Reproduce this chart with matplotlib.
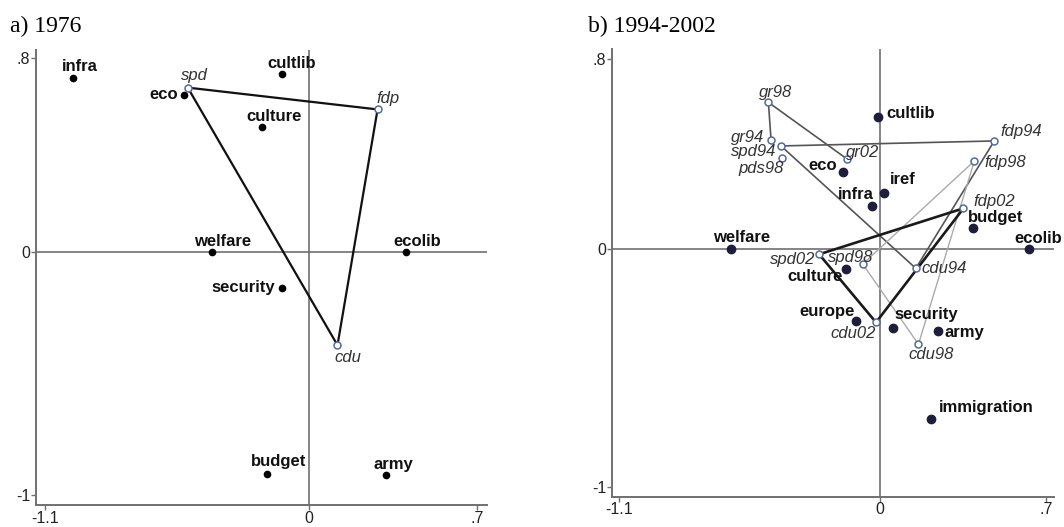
import matplotlib.pyplot as plt

plt.rcParams['font.family'] = ['Liberation Sans', 'DejaVu Sans']

# a) 1976 - issues and parties
issues76 = ['infra', 'cultlib', 'eco', 'culture', 'welfare', 'ecolib', 'security', 'budget', 'army']
issues76_x = [-0.985, -0.114, -0.521, -0.195, -0.405, 0.404, -0.114, -0.176, 0.320]
issues76_y = [0.716, 0.734, 0.649, 0.515, 0.0, 0.0, -0.150, -0.915, -0.920]
parties76 = ['spd', 'fdp', 'cdu']
parties76_x = [-0.505, 0.286, 0.119]
parties76_y = [0.678, 0.588, -0.384]

# b) 1994-2002 - issues and parties
issues_b = ['cultlib', 'eco', 'iref', 'infra', 'budget', 'welfare', 'ecolib', 'culture',
            'europe', 'security', 'army', 'immigration']
issues_b_x = [-0.010, -0.155, 0.017, -0.032, 0.394, -0.629, 0.629, -0.144, -0.103, 0.054, 0.246, 0.215]
issues_b_y = [0.556, 0.325, 0.237, 0.182, 0.087, 0.0, 0.0, -0.085, -0.303, -0.331, -0.343, -0.714]
parties_b = ['gr94', 'spd94', 'fdp94', 'cdu94', 'gr98', 'pds98', 'spd98', 'fdp98', 'cdu98',
             'gr02', 'spd02', 'fdp02', 'cdu02']
parties_b_x = [-0.460, -0.418, 0.482, 0.151, -0.471, -0.412, -0.073, 0.398, 0.162, -0.139, -0.257, 0.352, -0.017]
parties_b_y = [0.458, 0.433, 0.454, -0.081, 0.616, 0.382, -0.063, 0.370, -0.400, 0.378, -0.022, 0.171, -0.308]

# verbindungen zwischen parteien
lines76 = [['spd', 'fdp', 'cdu', 'spd']]
lines_b = [['spd94', 'fdp94', 'cdu94', 'spd94'], ['gr94', 'gr98', 'gr02'],
           ['spd98', 'fdp98', 'cdu98', 'spd98'], ['spd02', 'fdp02', 'cdu02', 'spd02']]
line_styles_b = [('#555555', 1.2), ('#555555', 1.2), ('#aaaaaa', 1.0), ('#1a1a1a', 1.9)]

# label offsets in pixels (dx, dy, ha)
lab76 = {'infra': (7, 12, 'center'), 'cultlib': (10, 11, 'center'), 'eco': (-6, 0, 'right'),
         'culture': (12, 11, 'center'), 'welfare': (11, 11, 'center'), 'ecolib': (11, 11, 'center'),
         'security': (-6, 1, 'right'), 'budget': (12, 12, 'center'), 'army': (8, 11, 'center'),
         'spd': (7, 12, 'center'), 'fdp': (10, 11, 'center'), 'cdu': (10, -12, 'center')}
lab_b = {'cultlib': (9, 3, 'left'), 'eco': (-6, 6, 'right'), 'iref': (6, 13, 'left'),
         'infra': (1, 11, 'right'), 'budget': (-5, 11, 'left'), 'welfare': (11, 12, 'center'),
         'ecolib': (9, 11, 'center'), 'culture': (-3, -7, 'right'), 'europe': (-1, 10, 'right'),
         'security': (2, 13, 'left'), 'army': (6, -2, 'left'), 'immigration': (8, 12, 'left'),
         'gr94': (-7, 2, 'right'), 'spd94': (-5, -6, 'right'), 'fdp94': (6, 9, 'left'),
         'cdu94': (6, 0, 'left'), 'gr98': (7, 10, 'center'), 'pds98': (1, -10, 'right'),
         'spd98': (-12, 7, 'center'), 'fdp98': (10, -2, 'left'), 'cdu98': (13, -10, 'center'),
         'gr02': (-1, 7, 'left'), 'spd02': (-4, -5, 'right'), 'fdp02': (10, 7, 'left'),
         'cdu02': (0, -11, 'right')}

fig = plt.figure(figsize=(10.64, 5.27), dpi=100)
ax1 = fig.add_axes([0.0338, 0.0417, 0.4239, 0.8634])
ax2 = fig.add_axes([0.5752, 0.0575, 0.4154, 0.8490])


def style_axes(ax, xlim, ylim):
    ax.set_xlim(*xlim)
    ax.set_ylim(*ylim)
    ax.axhline(0, color='#707070', lw=1.2, zorder=1)
    ax.axvline(0, color='#707070', lw=1.2, zorder=1)
    for s in ['top', 'right']:
        ax.spines[s].set_visible(False)
    for s in ['left', 'bottom']:
        ax.spines[s].set_color('#707070')
        ax.spines[s].set_linewidth(1.4)
    ax.set_xticks([-1.1, 0, 0.7])
    ax.set_xticklabels(['-1.1', '0', '.7'])
    ax.set_yticks([-1, 0, 0.8])
    ax.set_yticklabels(['-1', '0', '.8'])
    ax.tick_params(direction='out', length=3.5, width=1, color='#707070',
                   labelsize=11.5, labelcolor='#222222', pad=0.5)


def draw_panel(ax, issues, ix, iy, parties, px, py, lines, styles, labels, issue_col, issue_ms):
    pos = dict(zip(parties, zip(px, py)))
    for names, (col, lw) in zip(lines, styles):
        ax.plot([pos[n][0] for n in names], [pos[n][1] for n in names],
                color=col, lw=lw, zorder=2)
    ax.plot(ix, iy, 'o', color=issue_col, ms=issue_ms, zorder=3, ls='none')
    ax.plot(px, py, 'o', mfc='white', mec='#566a9a', mew=1.1, ms=5, zorder=4, ls='none')
    for n, x, y in zip(issues, ix, iy):
        dx, dy, ha = labels[n]
        ax.annotate(n, (x, y), xytext=(dx, dy), textcoords='offset pixels', ha=ha, va='center',
                    fontsize=12, fontweight='bold', color='#111111', zorder=5)
    for n, x, y in zip(parties, px, py):
        dx, dy, ha = labels[n]
        ax.annotate(n, (x, y), xytext=(dx, dy), textcoords='offset pixels', ha=ha, va='center',
                    fontsize=12, fontstyle='italic', color='#333333', zorder=5)


style_axes(ax1, (-1.1375, 0.742), (-1.043, 0.833))
style_axes(ax2, (-1.131, 0.734), (-1.04, 0.839))

draw_panel(ax1, issues76, issues76_x, issues76_y, parties76, parties76_x, parties76_y,
           lines76, [('#111111', 1.6)], lab76, '#000000', 4.5)
draw_panel(ax2, issues_b, issues_b_x, issues_b_y, parties_b, parties_b_x, parties_b_y,
           lines_b, line_styles_b, lab_b, '#1e1e3c', 6)

fig.text(10 / 1064, 1 - 32 / 527, 'a) 1976', family='Liberation Serif', fontsize=17, va='baseline')
fig.text(588 / 1064, 1 - 32 / 527, 'b) 1994-2002', family='Liberation Serif', fontsize=17, va='baseline')

fig.savefig('out.png', dpi=100)
